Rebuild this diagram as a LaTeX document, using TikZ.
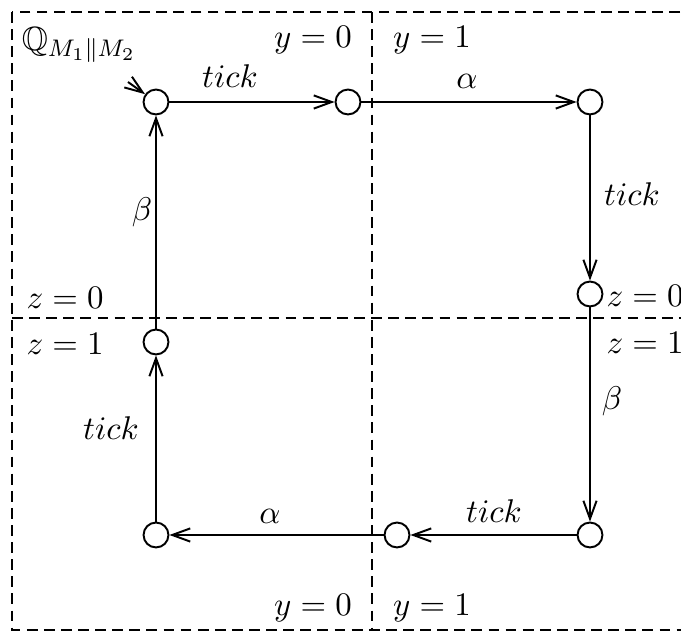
\documentclass[tikz,border=0pt]{standalone}
\usepackage{amssymb}
\usetikzlibrary{arrows.meta}
\begin{document}
\begin{tikzpicture}[x=0.3333pt,y=-0.3333pt,
  font=\fontsize{10.5pt}{12.5pt}\selectfont,
  st/.style={circle,draw,line width=0.65pt,minimum size=8.3pt,inner sep=0pt},
  tr/.style={line width=0.65pt,-{Straight Barb[length=6pt,width=4.4pt,line width=0.65pt]}},
  grid/.style={dash pattern=on 3.6pt off 2.1pt,line width=0.55pt},
  lab/.style={inner sep=1pt},
  el/.style={inner sep=0pt,anchor=base}]
\useasboundingbox (0,0) rectangle (681,635);
\clip (0,0) rectangle (681,635);
% frame and split lines
\draw[grid] (12,12) rectangle (720,630);
\draw[grid] (372,12) -- (372,630);
\draw[grid] (12,318) -- (720,318);
% region labels
\node[lab,font=\fontsize{11.2pt}{13pt}\selectfont] (q) at (79,45) {$\mathbb{Q}_{M_1\|M_2}$};
\node[lab] (y0t) at (313,40) {$y=0$};
\node[lab] (y1t) at (432,40) {$y=1$};
\node[lab] (y0b) at (313,608) {$y=0$};
\node[lab] (y1b) at (432,608) {$y=1$};
\node[lab,anchor=west] (z0l) at (23,298) {$z=0$};
\node[lab,anchor=west] (z1l) at (23,344) {$z=1$};
\node[lab,anchor=west] (z0r) at (603,296) {$z=0$};
\node[lab,anchor=west] (z1r) at (603,343) {$z=1$};
% states
\node[st] (A) at (156,102) {};
\node[st] (B) at (348,102) {};
\node[st] (C) at (590,102) {};
\node[st] (D) at (590,294) {};
\node[st] (E) at (590,535) {};
\node[st] (F) at (397,535) {};
\node[st] (G) at (156,535) {};
\node[st] (H) at (156,342) {};
\coordinate (init) at (128,82);
% transitions
\draw[tr] (init) -- (A);
\draw[tr] (A) -- (B);
\draw[tr] (B) -- (C);
\draw[tr] (C) -- (D);
\draw[tr] (D) -- (E);
\draw[tr] (E) -- (F);
\draw[tr] (F) -- (G);
\draw[tr] (G) -- (H);
\draw[tr] (H) -- (A);
% transition labels
\node[el] (lab) at (230,88) {$tick$};
\node[el] (lbc) at (467,89) {$\alpha$};
\node[el] (lcd) at (632,206) {$tick$};
\node[el] (lde) at (612,410) {$\beta$};
\node[el] (lef) at (494,523) {$tick$};
\node[el] (lfg) at (270,524) {$\alpha$};
\node[el] (lgh) at (111,440) {$tick$};
\node[el] (lha) at (142,221) {$\beta$};
\end{tikzpicture}
\end{document}
